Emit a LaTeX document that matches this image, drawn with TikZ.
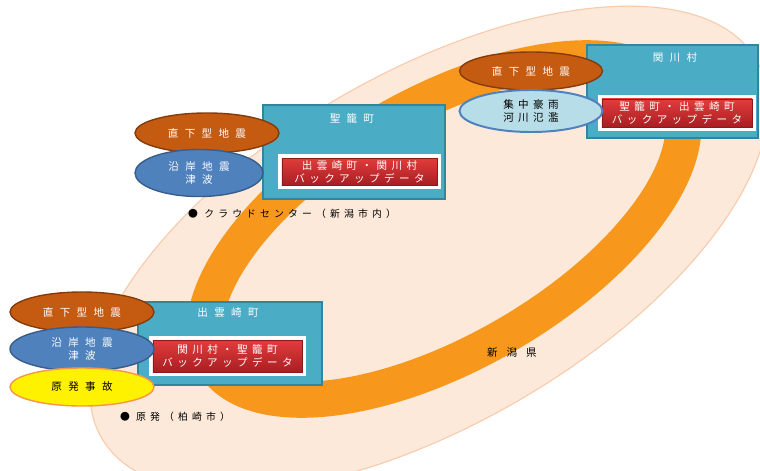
\documentclass[tikz,border=0pt]{standalone}
\usepackage{fontspec}
\usepackage{tikz}
\usetikzlibrary{shapes.geometric}
\setmainfont{Noto Sans CJK JP}
\newfontfamily\jpwide[LetterSpace=60]{Noto Sans CJK JP}
\newfontfamily\jpmid[LetterSpace=42]{Noto Sans CJK JP}

\definecolor{palefill}{HTML}{FCE9D9}
\definecolor{paleline}{HTML}{F8CBAD}
\definecolor{ringorange}{HTML}{F7981D}
\definecolor{tealbox}{HTML}{4BACC6}
\definecolor{tealline}{HTML}{31859C}
\definecolor{quakefill}{HTML}{C55A11}
\definecolor{quakeline}{HTML}{843C0C}
\definecolor{coastfill}{HTML}{4F81BD}
\definecolor{coastline}{HTML}{385D8A}
\definecolor{rainfill}{HTML}{B7DEE8}
\definecolor{nukeline}{HTML}{F79646}
\definecolor{redtop}{HTML}{E23C3C}
\definecolor{redbottom}{HTML}{A81E22}
\definecolor{redline}{HTML}{8B1A1A}

\begin{document}
\begin{tikzpicture}[x=0.025cm,y=0.025cm,
  town/.style 2 args={rectangle,draw=tealline,fill=tealbox,line width=1pt,
    minimum width=#1cm,minimum height=#2cm,inner sep=0pt},
  title/.style={text=white,font=\fontsize{7.5}{9}\jpwide},
  backup/.style 2 args={rectangle,draw=redline,line width=0.6pt,
    top color=redtop,bottom color=redbottom,
    preaction={draw=white,line width=5pt},
    minimum width=#1cm,minimum height=#2cm,inner sep=0pt,
    align=center,text=white,font=\fontsize{7.5}{9.2}\jpmid},
  hazard/.style 2 args={ellipse,line width=1pt,inner sep=0pt,
    minimum width=#1cm,minimum height=#2cm,align=center,
    font=\fontsize{7.5}{9.2}\jpwide},
  quake/.style={hazard={3.6}{1.0},draw=quakeline,fill=quakefill,text=white},
  coast/.style={hazard={3.6}{1.1},draw=coastline,fill=coastfill,text=white},
  rain/.style={hazard={3.575}{1.05},draw=coastfill,fill=rainfill,text=black,
    line width=1.4pt,font=\fontsize{7.5}{9.2}\jpmid},
  nuke/.style={hazard={3.6}{0.95},draw=nukeline,fill=yellow,text=black},
  place/.style={text=black,font=\fontsize{7}{9}\jpmid}]

\useasboundingbox (0,0) rectangle (760,470);

% prefecture and backup ring
\coordinate (pref) at (429,221);
\coordinate (loop) at (444,241);
\draw[draw=paleline,fill=palefill,line width=0.8pt,rotate around={30:(pref)}]
  (pref) ellipse [x radius=378, y radius=176];
\draw[draw=ringorange,line width=0.9cm,rotate around={30:(loop)}]
  (loop) ellipse [x radius=267, y radius=123];

\node[place,font=\fontsize{7.5}{9}\jpwide\addfontfeature{LetterSpace=85}] (niigata) at (512,117) {新潟県};

% towns
\node[town={4.55}{2.35}] (seirou) at (354,318) {};
\node[title] (seiroutitle) at (352,352) {聖籠町};
\node[backup={3.875}{0.675}] (seiroudata) at (359.5,298.5) {出雲崎町・関川村\\バックアップデータ};

\node[town={4.275}{2.325}] (sekikawa) at (672.5,378.5) {};
\node[title] (sekikawatitle) at (675,412) {関川村};
\node[backup={3.75}{0.7}] (sekikawadata) at (677,357) {聖籠町・出雲崎町\\バックアップデータ};

\node[town={4.6}{2.075}] (izumozaki) at (230,126.5) {};
\node[title] (izumozakititle) at (228,157) {出雲崎町};
\node[backup={3.725}{0.8}] (izumozakidata) at (227.5,114) {関川村・聖籠町\\バックアップデータ};

% hazards
\node[quake] (seirouquake) at (207,337) {直下型地震};
\node[coast,hazard={3.2}{1.175}] (seiroucoast) at (199,297) {沿岸地震\\津波};

\node[quake,hazard={3.575}{0.95}] (sekikawaquake) at (531,399) {直下型地震};
\node[rain] (sekikawarain) at (531,359) {集中豪雨\\河川氾濫};

\node[quake] (izumozakiquake) at (82,158) {直下型地震};
\node[coast] (izumozakicoast) at (82,121) {沿岸地震\\津波};
\node[nuke] (izumozakinuke) at (82,83) {原発事故};

\node[place] (cloud) at (292,256) {● クラウドセンター（新潟市内）};
\node[place] (plant) at (175,53) {● 原発（柏崎市）};

\end{tikzpicture}
\end{document}
